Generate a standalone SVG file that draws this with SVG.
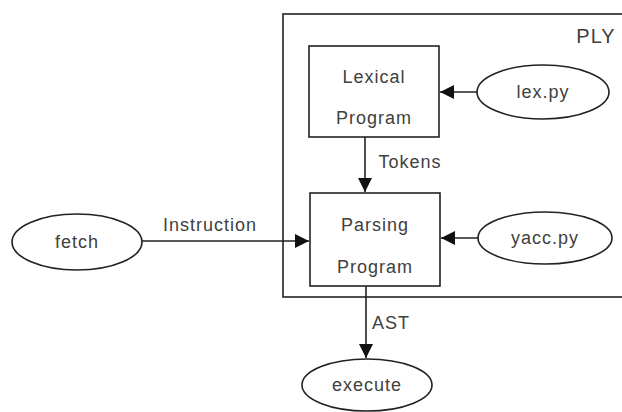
<svg xmlns="http://www.w3.org/2000/svg" width="622" height="412" viewBox="0 0 622 412">
<defs>
<marker id="ah" markerWidth="14" markerHeight="14" refX="14" refY="7" orient="auto" markerUnits="userSpaceOnUse">
<path d="M0,0 L14,7 L0,14 Z" fill="#111"/>
</marker>
<style>
.box{fill:#fff;stroke:#222;stroke-width:1.6}
.ell{fill:#fff;stroke:#222;stroke-width:1.6}
.edge{stroke:#222;stroke-width:1.6;fill:none;marker-end:url(#ah)}
text{font-family:"Liberation Sans",Arial,sans-serif;font-size:18px;fill:#404040;letter-spacing:1px;text-anchor:middle;dominant-baseline:central}
</style>
</defs>
<rect width="622" height="412" fill="#fff"/>
<g id="ply">
<rect x="283" y="14" width="342" height="283" fill="none" stroke="#222" stroke-width="1.6"/>
<text x="596" y="36" style="font-size:20px">PLY</text>
</g>
<g id="lexical">
<rect class="box" x="309" y="46" width="130" height="91"/>
<text x="374" y="77">Lexical</text>
<text x="374" y="118">Program</text>
</g>
<g id="parsing">
<rect class="box" x="310" y="193" width="130" height="93"/>
<text x="375" y="225">Parsing</text>
<text x="375" y="267">Program</text>
</g>
<g id="lexpy">
<ellipse class="ell" cx="543" cy="92" rx="66" ry="27"/>
<text x="543" y="92">lex.py</text>
</g>
<g id="yaccpy">
<ellipse class="ell" cx="545" cy="238" rx="67" ry="26"/>
<text x="545" y="238">yacc.py</text>
</g>
<g id="fetch">
<ellipse class="ell" cx="77" cy="242" rx="65" ry="28"/>
<text x="77" y="242">fetch</text>
</g>
<g id="execute">
<ellipse class="ell" cx="367" cy="385" rx="65" ry="26"/>
<text x="367" y="385">execute</text>
</g>
<g id="connectors">
<line class="edge" x1="477" y1="92" x2="440" y2="92"/>
<line class="edge" x1="478" y1="238" x2="441" y2="238"/>
<line class="edge" x1="365" y1="137" x2="365" y2="192"/>
<line class="edge" x1="142" y1="241" x2="309" y2="241"/>
<line class="edge" x1="366" y1="286" x2="366" y2="358"/>
<text x="410" y="162">Tokens</text>
<text x="210" y="225">Instruction</text>
<text x="391" y="323">AST</text>
</g>
</svg>
